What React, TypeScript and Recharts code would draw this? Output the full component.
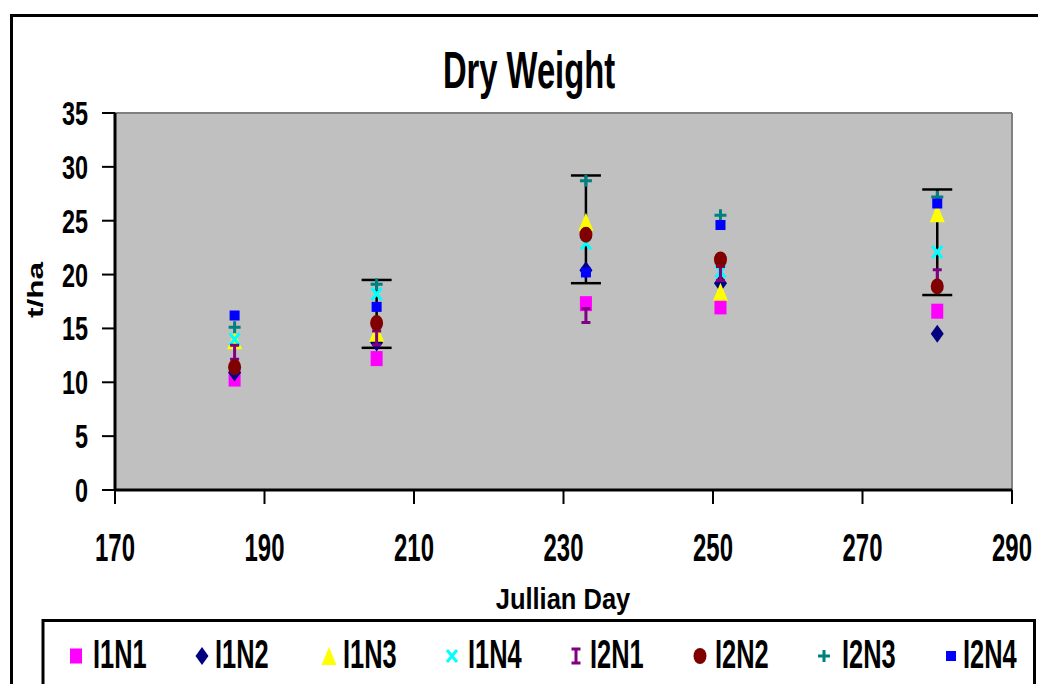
import React from "react"
import {
  ScatterChart,
  Scatter,
  XAxis,
  YAxis,
  CartesianGrid,
  ReferenceLine,
  ErrorBar,
} from "recharts"

// Julian day of each sampling date
const days = [186, 205, 233, 251, 280]

// dry weight (t/ha) per treatment
const i1n1 = [10.3, 12.2, 17.3, 17.0, 16.6]
const i1n2 = [10.9, 13.7, 20.4, 19.2, 14.5]
const i1n3 = [13.9, 14.6, 24.9, 18.4, 25.7]
const i1n4 = [14.0, 18.2, 22.9, 20.3, 22.1]
const i2n1 = [12.8, 14.1, 16.2, 20.1, 19.8]
const i2n2 = [11.4, 15.5, 23.7, 21.4, 18.9]
const i2n3 = [15.1, 19.1, 28.7, 25.5, 27.2]
const i2n4 = [16.2, 17.0, 20.2, 24.6, 26.6]

// error bars drawn on three of the dates
const errDays = [205, 233, 280]
const errLow = [13.2, 19.2, 18.1]
const errHigh = [19.5, 29.2, 27.9]

const xTicks = [170, 190, 210, 230, 250, 270, 290]
const yTicks = [0, 5, 10, 15, 20, 25, 30, 35]

const FONT = "'Liberation Sans', Arial, sans-serif"

type MarkerProps = { cx?: number; cy?: number; color: string }

const SquareMark = ({ cx = 0, cy = 0, color, w = 12, h = 15 }: MarkerProps & { w?: number; h?: number }) => (
  <rect x={cx - w / 2} y={cy - h / 2} width={w} height={h} fill={color} />
)
const DiamondMark = ({ cx = 0, cy = 0, color }: MarkerProps) => (
  <polygon points={`${cx},${cy - 9} ${cx + 6.5},${cy} ${cx},${cy + 9} ${cx - 6.5},${cy}`} fill={color} />
)
const TriangleMark = ({ cx = 0, cy = 0, color }: MarkerProps) => (
  <polygon points={`${cx},${cy - 9} ${cx + 7.5},${cy + 9} ${cx - 7.5},${cy + 9}`} fill={color} />
)
const XMark = ({ cx = 0, cy = 0, color }: MarkerProps) => (
  <path
    d={`M${cx - 5},${cy - 6}L${cx + 5},${cy + 6}M${cx + 5},${cy - 6}L${cx - 5},${cy + 6}`}
    stroke={color}
    strokeWidth={3}
    fill="none"
  />
)
const IBeamMark = ({ cx = 0, cy = 0, color }: MarkerProps) => (
  <path
    d={`M${cx - 4.5},${cy - 7}h9M${cx},${cy - 7}v14M${cx - 4.5},${cy + 7}h9`}
    stroke={color}
    strokeWidth={3}
    fill="none"
  />
)
const CircleMark = ({ cx = 0, cy = 0, color }: MarkerProps) => (
  <ellipse cx={cx} cy={cy} rx={6.5} ry={8} fill={color} />
)
const PlusMark = ({ cx = 0, cy = 0, color }: MarkerProps) => (
  <path
    d={`M${cx - 6},${cy}h12M${cx},${cy - 6}v12`}
    stroke={color}
    strokeWidth={3}
    fill="none"
  />
)
const SmallSquareMark = ({ cx = 0, cy = 0, color }: MarkerProps) => (
  <SquareMark cx={cx} cy={cy} color={color} w={10} h={10} />
)

const series = [
  { name: "I1N1", values: i1n1, color: "#FF00FF", Mark: SquareMark },
  { name: "I1N2", values: i1n2, color: "#000080", Mark: DiamondMark },
  { name: "I1N3", values: i1n3, color: "#FFFF00", Mark: TriangleMark },
  { name: "I1N4", values: i1n4, color: "#00FFFF", Mark: XMark },
  { name: "I2N1", values: i2n1, color: "#800080", Mark: IBeamMark },
  { name: "I2N2", values: i2n2, color: "#800000", Mark: CircleMark },
  { name: "I2N3", values: i2n3, color: "#008080", Mark: PlusMark },
  { name: "I2N4", values: i2n4, color: "#0000FF", Mark: SmallSquareMark },
]

const errData = errDays.map((d, i) => ({
  x: d,
  y: errLow[i],
  err: [0, errHigh[i] - errLow[i]],
}))

// the original text is squeezed narrow, so draw it scaled horizontally
const NarrowText = ({ x, y, sx, anchor = "start", size, children }: any) => (
  <text
    transform={`translate(${x},${y}) scale(${sx},1)`}
    textAnchor={anchor}
    fontFamily={FONT}
    fontWeight="bold"
    fontSize={size}
    fill="#000"
  >
    {children}
  </text>
)

const YTick = ({ x, y, payload }: any) => (
  <NarrowText x={x} y={y + 12} sx={0.69} anchor="end" size={34}>
    {payload.value}
  </NarrowText>
)

const XTick = ({ x, payload }: any) => (
  <NarrowText x={x} y={561} sx={0.63} anchor="middle" size={38}>
    {payload.value}
  </NarrowText>
)

const legendMarkX = [76, 202, 329, 452, 576, 700, 824, 951]
const legendTextX = [93, 215, 343, 468, 590, 715, 842, 963]

export default function App() {
  return (
    <div style={{ position: "absolute", left: 0, top: 0, width: 1038, height: 684, background: "#fff", overflow: "hidden" }}>
      <ScatterChart width={1038} height={684} margin={{ top: 113, right: 26, bottom: 0, left: 0 }}>
        <CartesianGrid fill="#C0C0C0" horizontal={false} vertical={false} />
        <XAxis
          type="number"
          dataKey="x"
          domain={[170, 290]}
          ticks={xTicks}
          height={194}
          tick={<XTick />}
          tickSize={14}
          tickLine={{ stroke: "#000", strokeWidth: 2 }}
          axisLine={{ stroke: "#000", strokeWidth: 3 }}
          allowDataOverflow
        />
        <YAxis
          type="number"
          dataKey="y"
          domain={[0, 35]}
          ticks={yTicks}
          width={115}
          tick={<YTick />}
          tickSize={13}
          tickMargin={14}
          tickLine={{ stroke: "#000", strokeWidth: 2 }}
          axisLine={{ stroke: "#000", strokeWidth: 3 }}
          allowDataOverflow
        />
        <ReferenceLine y={35} stroke="#808080" strokeWidth={2} />
        <ReferenceLine x={290} stroke="#808080" strokeWidth={2} />
        {series.map((s) => (
          <Scatter
            key={s.name}
            name={s.name}
            data={days.map((d, i) => ({ x: d, y: s.values[i] }))}
            fill={s.color}
            shape={(p: any) => <s.Mark cx={p.cx} cy={p.cy} color={s.color} />}
            isAnimationActive={false}
          />
        ))}
        <Scatter
          name="error"
          data={errData}
          shape={() => <g />}
          legendType="none"
          isAnimationActive={false}
        >
          <ErrorBar dataKey="err" direction="y" width={15} stroke="#000" strokeWidth={2.5} />
        </Scatter>
      </ScatterChart>

      <svg
        width={1038}
        height={684}
        style={{ position: "absolute", left: 0, top: 0, pointerEvents: "none" }}
      >
        {/* chart frame */}
        <path d="M11.5,684V15.5H1038" stroke="#000" strokeWidth={3} fill="none" />
        <NarrowText x={529} y={88} sx={0.63} anchor="middle" size={52}>
          Dry Weight
        </NarrowText>
        <text
          transform="translate(43,290) rotate(-90)"
          textAnchor="middle"
          fontFamily={FONT}
          fontWeight="bold"
          fontSize={22}
          fill="#000"
          textLength={56}
          lengthAdjust="spacingAndGlyphs"
        >
          t/ha
        </text>
        <NarrowText x={563} y={609} sx={0.85} anchor="middle" size={30}>
          Jullian Day
        </NarrowText>

        {/* legend */}
        <path d="M43,684V620.5H1034.5V684" stroke="#000" strokeWidth={3} fill="#fff" />
        {series.map((s, i) => (
          <g key={s.name}>
            <s.Mark cx={legendMarkX[i]} cy={656} color={s.color} />
            <NarrowText x={legendTextX[i]} y={668} sx={0.62} size={41}>
              {s.name}
            </NarrowText>
          </g>
        ))}
      </svg>
    </div>
  )
}
